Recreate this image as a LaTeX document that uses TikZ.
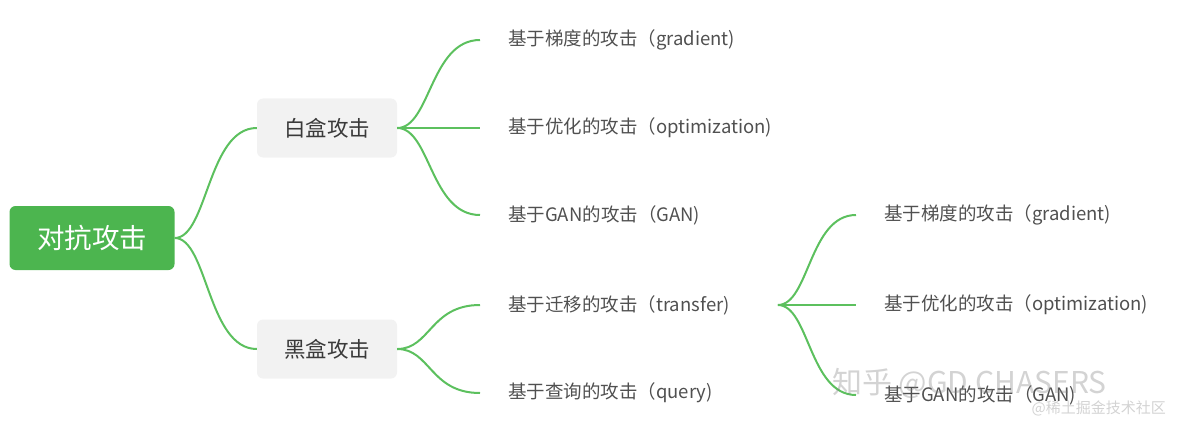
\documentclass[tikz,border=0pt]{standalone}
\usepackage{fontspec}
\setmainfont{Noto Sans CJK SC}
\usetikzlibrary{calc}
\definecolor{rootgreen}{HTML}{4CB54F}
\definecolor{linegreen}{HTML}{5CC05E}
\definecolor{boxgray}{HTML}{F2F2F2}
\definecolor{boxtext}{HTML}{3A3A3A}
\definecolor{leaftext}{HTML}{505050}
\tikzset{
  rootbox/.style={fill=rootgreen, rounded corners=6pt, minimum width=165pt, minimum height=64pt, text=white, font=\fontsize{27.5}{30}\selectfont, inner sep=0pt},
  midbox/.style={fill=boxgray, rounded corners=6pt, minimum width=140pt, minimum height=59pt, text=boxtext, font=\fontsize{21.5}{24}\selectfont, inner sep=0pt},
  leaf/.style={anchor=west, text=leaftext, font=\fontsize{18.5}{21}\selectfont, inner sep=0pt},
  br/.style={draw=linegreen, line width=2pt},
  wm/.style={text=gray, opacity=0.35, inner sep=0pt}
}
\begin{document}
\begin{tikzpicture}[x=1pt,y=-1pt]
\useasboundingbox (0,0) rectangle (1182,433);
\node[rootbox] (root) at (92,238) {对抗攻击};
\node[midbox] (wb) at (327,128) {白盒攻击};
\node[midbox] (bb) at (327,349) {黑盒攻击};
% white-box leaves
\node[leaf] (w1) at (508,40) {基于梯度的攻击（gradient)};
\node[leaf] (w2) at (508,128) {基于优化的攻击（optimization)};
\node[leaf] (w3) at (508,215) {基于GAN的攻击（GAN)};
% black-box leaves
\node[leaf] (b1) at (508,305) {基于迁移的攻击（transfer)};
\node[leaf] (b2) at (508,393) {基于查询的攻击（query)};
% transfer leaves
\node[leaf] (t1) at (884,215) {基于梯度的攻击（gradient)};
\node[leaf] (t2) at (884,305) {基于优化的攻击（optimization)};
\node[leaf] (t3) at (884,395) {基于GAN的攻击（GAN)};
% coordinates for connector ends
\coordinate (wbo) at (wb.east);
\coordinate (bbo) at (bb.east);
\coordinate (tro) at ($(b1.east)+(48,0)$);
\foreach \n in {w1,w2,w3,b1,b2,t1,t2,t3}{\coordinate (\n i) at ($(\n.west)+(-28,0)$);}
% connectors
\foreach \a/\b in {root.east/wb.west, root.east/bb.west, wbo/w1i, wbo/w3i, bbo/b1i, bbo/b2i, tro/t1i, tro/t3i}{
  \draw[br] (\a) .. controls ($(\a)!0.4!(\a -| \b)$) and ($(\a |- \b)!0.4!(\b)$) .. (\b);
}
\draw[br] (wbo) -- (w2i);
\draw[br] (tro) -- (t2i);
% watermarks
\node[wm, anchor=west, font=\fontsize{30}{34}\selectfont] (wm1) at (832,383) {知乎 @GD CHASERS};
\node[wm, anchor=east, font=\fontsize{15}{18}\selectfont] (wm2) at (1166,408) {@稀土掘金技术社区};
\end{tikzpicture}
\end{document}
